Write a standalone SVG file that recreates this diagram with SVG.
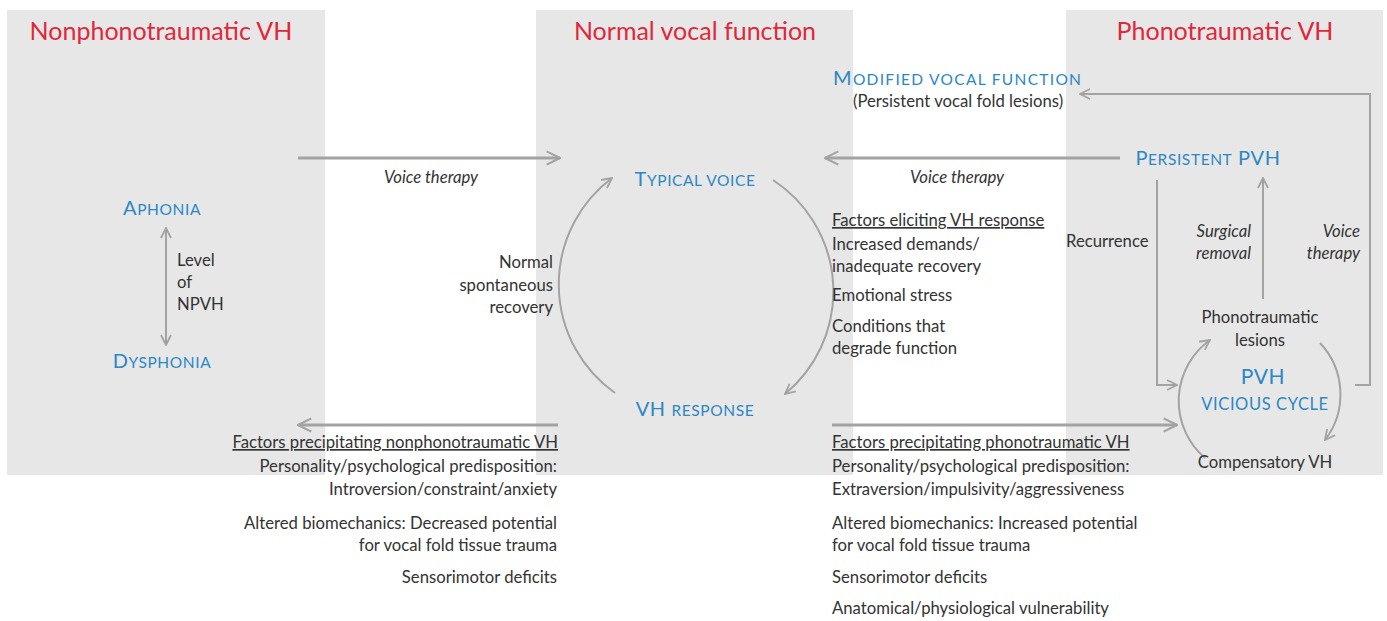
<svg xmlns="http://www.w3.org/2000/svg" width="1387" height="621" viewBox="0 0 1387 621">
<style>
.panel{fill:#e7e7e7}
.title{font-family:Lato,"Liberation Sans",sans-serif;font-size:25px;fill:#e0283c;text-anchor:middle}
.blue{font-family:Lato,"Liberation Sans",sans-serif;font-size:20px;fill:#2c87c4;letter-spacing:0.6px}
.sc{font-size:15.5px}
.t{font-family:Lato,"Liberation Sans",sans-serif;font-size:16.7px;fill:#333}
.i{font-style:italic}
.u{text-decoration:underline}
.thick{stroke:#a3a3a3;stroke-width:3;fill:none}
.thin{stroke:#a3a3a3;stroke-width:2;fill:none}
</style>
<defs>
<marker id="ahb" viewBox="0 0 12 12" refX="11" refY="6" markerWidth="16" markerHeight="16" orient="auto-start-reverse" markerUnits="userSpaceOnUse">
<path d="M1,1 L11,6 L1,11" fill="none" stroke="#a3a3a3" stroke-width="1.6"/>
</marker>
<marker id="ahs" viewBox="0 0 12 12" refX="11" refY="6" markerWidth="12" markerHeight="12" orient="auto-start-reverse" markerUnits="userSpaceOnUse">
<path d="M1,1 L11,6 L1,11" fill="none" stroke="#a3a3a3" stroke-width="1.8"/>
</marker>
</defs>
<g id="panels">
<rect class="panel" x="7" y="10" width="318" height="465"/>
<rect class="panel" x="536" y="10" width="317" height="465"/>
<rect class="panel" x="1066" y="10" width="317" height="465"/>
</g>
<g id="titles">
<text class="title" x="161" y="40">Nonphonotraumatic VH</text>
<text class="title" x="695" y="40">Normal vocal function</text>
<text class="title" x="1225" y="40">Phonotraumatic VH</text>
</g>
<g id="connectors">
<line class="thick" x1="298" y1="158" x2="560" y2="158" marker-end="url(#ahb)"/>
<line class="thick" x1="1120" y1="158" x2="825" y2="158" marker-end="url(#ahb)"/>
<line class="thick" x1="558" y1="425" x2="298" y2="425" marker-end="url(#ahb)"/>
<line class="thick" x1="832" y1="425" x2="1177" y2="425" marker-end="url(#ahb)"/>
<line class="thin" x1="166" y1="228" x2="166" y2="345" marker-start="url(#ahs)" marker-end="url(#ahs)"/>
<path class="thin" d="M615,393 A133,133 0 0 1 612,178" marker-end="url(#ahs)"/>
<path class="thin" d="M773,180 A133,133 0 0 1 785,394" marker-end="url(#ahs)"/>
<path class="thin" d="M1157,180 L1157,385 L1177,385" marker-end="url(#ahs)"/>
<line class="thin" x1="1263" y1="299" x2="1263" y2="178" marker-end="url(#ahs)"/>
<path class="thin" d="M1355,385 L1370,385 L1370,94 L1080,94" marker-end="url(#ahs)"/>
<path class="thin" d="M1205,458 A75,75 0 0 1 1210,340" marker-end="url(#ahs)"/>
<path class="thin" d="M1320,343 A75,75 0 0 1 1325,440" marker-end="url(#ahs)"/>
</g>
<g id="node-modified">
<text class="blue" x="833" y="85" style="letter-spacing:1.3px">M<tspan class="sc">ODIFIED VOCAL FUNCTION</tspan></text>
<text class="t" x="853" y="107">(Persistent vocal fold lesions)</text>
</g>
<g id="node-aphonia"><text class="blue" x="162" y="215" text-anchor="middle">A<tspan class="sc">PHONIA</tspan></text></g>
<g id="node-dysphonia"><text class="blue" x="162" y="368" text-anchor="middle">D<tspan class="sc">YSPHONIA</tspan></text></g>
<g id="label-level">
<text class="t" x="177" y="266">Level</text>
<text class="t" x="177" y="288">of</text>
<text class="t" x="177" y="310">NPVH</text>
</g>
<g id="node-typical"><text class="blue" x="695" y="186" text-anchor="middle">T<tspan class="sc">YPICAL VOICE</tspan></text></g>
<g id="node-vhresponse"><text class="blue" x="695" y="416" text-anchor="middle">VH <tspan class="sc">RESPONSE</tspan></text></g>
<g id="node-persistent"><text class="blue" x="1208" y="165" text-anchor="middle">P<tspan class="sc">ERSISTENT</tspan> PVH</text></g>
<g id="labels-voice-therapy">
<text class="t i" x="431" y="183" text-anchor="middle">Voice therapy</text>
<text class="t i" x="957" y="183" text-anchor="middle">Voice therapy</text>
</g>
<g id="label-recovery" text-anchor="end">
<text class="t" x="553" y="268">Normal</text>
<text class="t" x="553" y="291">spontaneous</text>
<text class="t" x="553" y="313">recovery</text>
</g>
<g id="factors-eliciting">
<text class="t u" x="832" y="226">Factors eliciting VH response</text>
<text class="t" x="832" y="250">Increased demands/</text>
<text class="t" x="832" y="272">inadequate recovery</text>
<text class="t" x="832" y="301">Emotional stress</text>
<text class="t" x="832" y="332">Conditions that</text>
<text class="t" x="832" y="354">degrade function</text>
</g>
<g id="label-recurrence"><text class="t" x="1066" y="247">Recurrence</text></g>
<g id="label-surgical" text-anchor="end">
<text class="t i" x="1251" y="237">Surgical</text>
<text class="t i" x="1251" y="259">removal</text>
</g>
<g id="label-voice-therapy-right" text-anchor="end">
<text class="t i" x="1360" y="237">Voice</text>
<text class="t i" x="1360" y="259">therapy</text>
</g>
<g id="node-lesions" text-anchor="middle">
<text class="t" x="1260" y="323">Phonotraumatic</text>
<text class="t" x="1260" y="346">lesions</text>
</g>
<g id="node-pvh" text-anchor="middle">
<text class="blue" x="1263" y="384" style="font-size:21px">PVH</text>
<text class="blue" x="1265" y="410"><tspan class="sc" style="font-size:16.5px">VICIOUS CYCLE</tspan></text>
</g>
<g id="node-compensatory"><text class="t" x="1265" y="468" text-anchor="middle">Compensatory VH</text></g>
<g id="factors-nonphono" text-anchor="end">
<text class="t u" x="558" y="448">Factors precipitating nonphonotraumatic VH</text>
<text class="t" x="557" y="472">Personality/psychological predisposition:</text>
<text class="t" x="557" y="495">Introversion/constraint/anxiety</text>
<text class="t" x="557" y="529">Altered biomechanics: Decreased potential</text>
<text class="t" x="557" y="551">for vocal fold tissue trauma</text>
<text class="t" x="557" y="583">Sensorimotor deficits</text>
</g>
<g id="factors-phono">
<text class="t u" x="832" y="448">Factors precipitating phonotraumatic VH</text>
<text class="t" x="832" y="472">Personality/psychological predisposition:</text>
<text class="t" x="832" y="495">Extraversion/impulsivity/aggressiveness</text>
<text class="t" x="832" y="529">Altered biomechanics: Increased potential</text>
<text class="t" x="832" y="551">for vocal fold tissue trauma</text>
<text class="t" x="832" y="583">Sensorimotor deficits</text>
<text class="t" x="832" y="614">Anatomical/physiological vulnerability</text>
</g>
</svg>
